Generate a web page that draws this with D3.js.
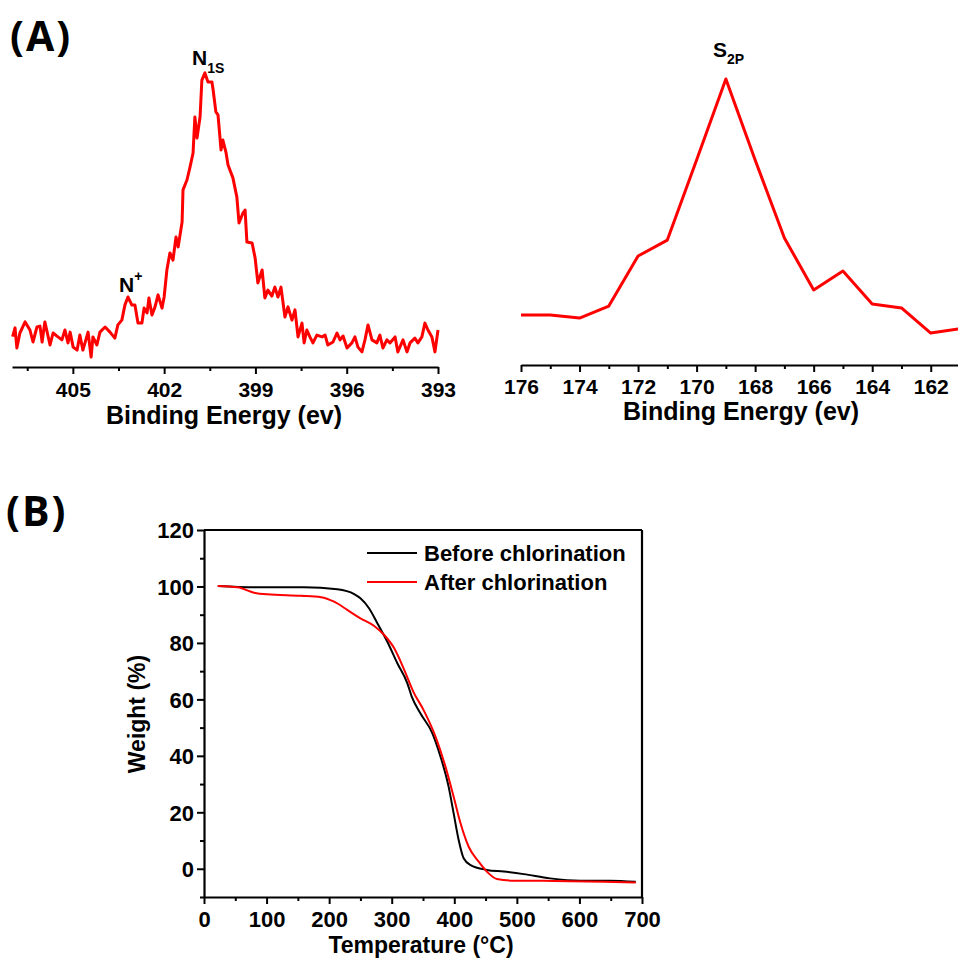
<!DOCTYPE html>
<html>
<head>
<meta charset="utf-8">
<script src="https://cdn.jsdelivr.net/npm/d3@7"></script>
<style>
  body { margin: 0; background: #fff; }
  text { font-family: "Liberation Sans", Arial, sans-serif; font-weight: bold; fill: #000; }
  .panel-tag { font-family: "Open Sans", "Liberation Sans", sans-serif; font-weight: 700; }
</style>
</head>
<body>
<div id="chart"></div>
<script>
// ---- data ----
// N1s spectrum (binding energy eV, intensity a.u.)
var n1sEnergy = [406.98,406.90,406.84,406.74,406.57,406.41,406.31,406.18,406.08,406.01,
  405.92,405.75,405.65,405.49,405.36,405.26,405.16,405.09,404.99,404.86,
  404.77,404.67,404.50,404.40,404.34,404.21,404.11,403.94,403.78,403.62,
  403.52,403.39,403.29,403.19,403.06,402.96,402.86,402.73,402.66,402.56,
  402.50,402.40,402.30,402.20,402.07,402.00,401.91,401.81,401.71,401.61,
  401.54,401.41,401.38,401.25,401.15,401.05,400.99,400.92,400.82,400.76,
  400.66,400.56,400.43,400.39,400.30,400.23,400.13,400.07,399.97,399.90,
  399.74,399.61,399.54,399.41,399.34,399.28,399.11,399.01,398.92,398.78,
  398.69,398.59,398.46,398.36,398.26,398.16,398.03,397.93,397.80,397.70,
  397.60,397.47,397.40,397.31,397.21,397.11,396.98,396.81,396.71,396.62,
  396.45,396.32,396.22,396.12,395.99,395.83,395.73,395.63,395.50,395.40,
  395.30,395.17,395.01,394.91,394.81,394.68,394.58,394.41,394.32,394.15,
  394.02,393.92,393.76,393.66,393.53,393.43,393.33,393.20,393.10,393.00];
var n1sIntensity = [9.8,12.7,6.0,11.0,14.7,12.0,8.0,13.0,13.3,8.0,
  14.7,7.0,11.0,9.7,8.7,12.0,7.7,11.3,6.3,5.3,
  10.3,5.3,11.3,3.0,9.7,7.0,11.3,13.0,11.3,9.3,
  13.7,15.3,20.3,23.0,20.3,20.3,14.3,14.3,19.3,17.7,
  22.7,17.0,19.7,23.7,19.3,23.0,32.0,37.7,35.3,43.0,
  39.7,48.0,58.7,62.0,66.3,71.0,83.0,76.0,83.0,95.3,
  97.7,94.7,94.7,92.0,84.7,83.7,72.0,75.3,71.3,67.0,
  62.7,56.3,47.7,51.0,52.0,41.3,41.0,36.0,27.7,32.0,
  22.7,25.3,23.3,26.3,23.0,26.3,16.3,19.7,15.3,18.7,
  9.7,14.3,7.7,12.0,9.7,7.7,10.3,9.7,10.3,7.0,
  8.0,11.0,8.7,10.0,6.0,7.7,9.7,6.3,4.7,8.7,
  13.7,8.7,7.7,10.3,6.0,8.7,7.7,9.7,4.7,8.7,
  4.7,7.7,9.3,7.7,9.7,14.3,12.0,9.7,4.7,12.0];

// S2p spectrum
var s2pEnergy = [176,175,174,173,172,171,170,169,168,167,166,165,164,163,162,161];
var s2pIntensity = [16.3,16.3,15.3,19.3,36.0,41.3,68.0,95.0,68.0,42.0,24.7,31.0,20.0,18.7,10.3,11.8];

// TGA
var beforeTemp = [22,80,160,213,240,250,264,277,293,309,325,332,346,365,378,391,399,407,415,426,452,479,511,553,601,649,690];
var beforeWeight = [100.2,99.7,99.7,99.0,97.3,95.8,92.2,87.0,80.4,72.8,65.7,61.0,55.0,48.0,39.7,29.0,19.6,10.2,3.7,1.3,-0.4,-1.0,-1.9,-3.4,-4.2,-4.2,-4.6];
var afterTemp = [22,54,80,101,155,187,208,229,250,272,288,304,319,335,351,370,386,399,410,423,439,452,468,495,559,638,690];
var afterWeight = [100.2,99.7,97.8,97.2,96.7,96.2,94.6,91.7,88.7,86.0,82.8,78.1,71.0,62.5,56.2,46.8,36.1,25.5,16.1,7.8,2.5,-1.0,-3.6,-4.2,-4.3,-4.6,-4.9];

var n1sTicks = [405,402,399,396,393];
var n1sMinor = [406.5,403.5,400.5,397.5,394.5];
var s2pTicks = [176,174,172,170,168,166,164,162];
var s2pMinor = [175,173,171,169,167,165,163];
var tempTicks = [0,100,200,300,400,500,600,700];
var tempMinor = [50,150,250,350,450,550,650];
var weightTicks = [0,20,40,60,80,100,120];
var weightMinor = [-10,10,30,50,70,90,110];
var legendNames = ["Before chlorination","After chlorination"];

var svg = d3.select("#chart").append("svg")
  .attr("width", 958)
  .attr("height", 962);

svg.append("text").attr("class","panel-tag").attr("x", 10).attr("y", 51)
  .style("font-size","41px").style("letter-spacing","2px").text("(A)");
svg.append("text").attr("class","panel-tag").attr("x", 6).attr("y", 526)
  .style("font-size","41px").style("letter-spacing","2px").text("(B)");

function styleAxis(g, fs) {
  g.attr("font-family", null);
  g.selectAll("path.domain").attr("stroke","#000").attr("stroke-width",2.2);
  g.selectAll(".tick line").attr("stroke","#000").attr("stroke-width",2);
  g.selectAll(".tick text").style("font-size", fs);
}

// ---- N1s panel ----
var x1 = d3.scaleLinear().domain([407,393]).range([12,438]);
var y1 = d3.scaleLinear().domain([0,100]).range([366,66]);
var ax1 = svg.append("g").attr("transform","translate(0,367)")
  .call(d3.axisBottom(x1).tickValues(n1sTicks).tickSize(7).tickSizeOuter(0).tickPadding(8));
styleAxis(ax1, "21px");
var ax1m = svg.append("g").attr("transform","translate(0,367)")
  .call(d3.axisBottom(x1).tickValues(n1sMinor).tickSize(4).tickSizeOuter(0).tickFormat(""));
ax1m.select("path.domain").remove();
styleAxis(ax1m, "21px");

svg.append("path")
  .datum(d3.range(n1sEnergy.length))
  .attr("fill","none").attr("stroke","#ff0000").attr("stroke-width",3).attr("stroke-linejoin","round")
  .attr("d", d3.line().x(function(i){return x1(n1sEnergy[i]);}).y(function(i){return y1(n1sIntensity[i]);}));

svg.append("text").attr("x", 224).attr("y", 424).attr("text-anchor","middle")
  .style("font-size","25px").text("Binding Energy (ev)");

var nLab = svg.append("text").attr("x", 192).attr("y", 65).style("font-size","21px");
nLab.append("tspan").text("N");
nLab.append("tspan").attr("dy", 8).style("font-size","14px").text("1S");
var npLab = svg.append("text").attr("x", 119).attr("y", 292).style("font-size","21px");
npLab.append("tspan").text("N");
npLab.append("tspan").attr("dy", -11).style("font-size","14px").text("+");

// ---- S2p panel ----
var x2 = d3.scaleLinear().domain([176,161]).range([521,960]);
var y2 = d3.scaleLinear().domain([0,100]).range([364,64]);
var ax2 = svg.append("g").attr("transform","translate(0,365)")
  .call(d3.axisBottom(x2).tickValues(s2pTicks).tickSize(7).tickSizeOuter(0).tickPadding(7));
styleAxis(ax2, "21px");
var ax2m = svg.append("g").attr("transform","translate(0,365)")
  .call(d3.axisBottom(x2).tickValues(s2pMinor).tickSize(4).tickSizeOuter(0).tickFormat(""));
ax2m.select("path.domain").remove();
styleAxis(ax2m, "21px");

svg.append("path")
  .datum(d3.range(s2pEnergy.length))
  .attr("fill","none").attr("stroke","#ff0000").attr("stroke-width",3).attr("stroke-linejoin","round")
  .attr("d", d3.line().x(function(i){return x2(s2pEnergy[i]);}).y(function(i){return y2(s2pIntensity[i]);}));

svg.append("text").attr("x", 741).attr("y", 420).attr("text-anchor","middle")
  .style("font-size","25px").text("Binding Energy (ev)");

var sLab = svg.append("text").attr("x", 713).attr("y", 57).style("font-size","21px");
sLab.append("tspan").text("S");
sLab.append("tspan").attr("dy", 7).style("font-size","14px").text("2P");

// ---- TGA panel ----
var x3 = d3.scaleLinear().domain([0,700]).range([204,642]);
var y3 = d3.scaleLinear().domain([-10,120]).range([897,530]);

var ax3 = svg.append("g").attr("transform","translate(0,897)")
  .call(d3.axisBottom(x3).tickValues(tempTicks).tickSize(7).tickSizeOuter(0).tickPadding(7));
styleAxis(ax3, "22px");
var ax3m = svg.append("g").attr("transform","translate(0,897)")
  .call(d3.axisBottom(x3).tickValues(tempMinor).tickSize(4).tickFormat(""));
ax3m.select("path.domain").remove();
styleAxis(ax3m, "22px");

var ay3 = svg.append("g").attr("transform","translate(204,0)")
  .call(d3.axisLeft(y3).tickValues(weightTicks).tickSize(7).tickSizeOuter(0).tickPadding(3));
styleAxis(ay3, "22px");
ay3.selectAll(".tick text").attr("dy","0.36em");
var ay3m = svg.append("g").attr("transform","translate(204,0)")
  .call(d3.axisLeft(y3).tickValues(weightMinor).tickSize(4).tickFormat(""));
ay3m.select("path.domain").remove();
styleAxis(ay3m, "22px");

// frame top/right
svg.append("line").attr("x1",204).attr("x2",642).attr("y1",530).attr("y2",530).attr("stroke","#000").attr("stroke-width",2.2);
svg.append("line").attr("x1",642).attr("x2",642).attr("y1",530).attr("y2",897).attr("stroke","#000").attr("stroke-width",2.2);

var tgaLine = function(tx, wy) {
  return d3.line().curve(d3.curveMonotoneX)
    .x(function(i){return x3(tx[i]);}).y(function(i){return y3(wy[i]);});
};
svg.append("path").datum(d3.range(beforeTemp.length))
  .attr("fill","none").attr("stroke","#000").attr("stroke-width",2)
  .attr("d", tgaLine(beforeTemp, beforeWeight));
svg.append("path").datum(d3.range(afterTemp.length))
  .attr("fill","none").attr("stroke","#ff0000").attr("stroke-width",2)
  .attr("d", tgaLine(afterTemp, afterWeight));

// legend
var legColors = ["#000","#ff0000"];
legendNames.forEach(function(name, i) {
  var ly = 553 + i * 29;
  svg.append("line").attr("x1",367).attr("x2",417).attr("y1",ly).attr("y2",ly)
    .attr("stroke",legColors[i]).attr("stroke-width",2);
  svg.append("text").attr("x",424).attr("y",ly + 8).style("font-size","22px").text(name);
});

svg.append("text").attr("x", 421).attr("y", 953).attr("text-anchor","middle")
  .style("font-size","23px").text("Temperature (°C)");
svg.append("text").attr("transform","translate(145,714) rotate(-90)").attr("text-anchor","middle")
  .style("font-size","23px").text("Weight (%)");
</script>
</body>
</html>
